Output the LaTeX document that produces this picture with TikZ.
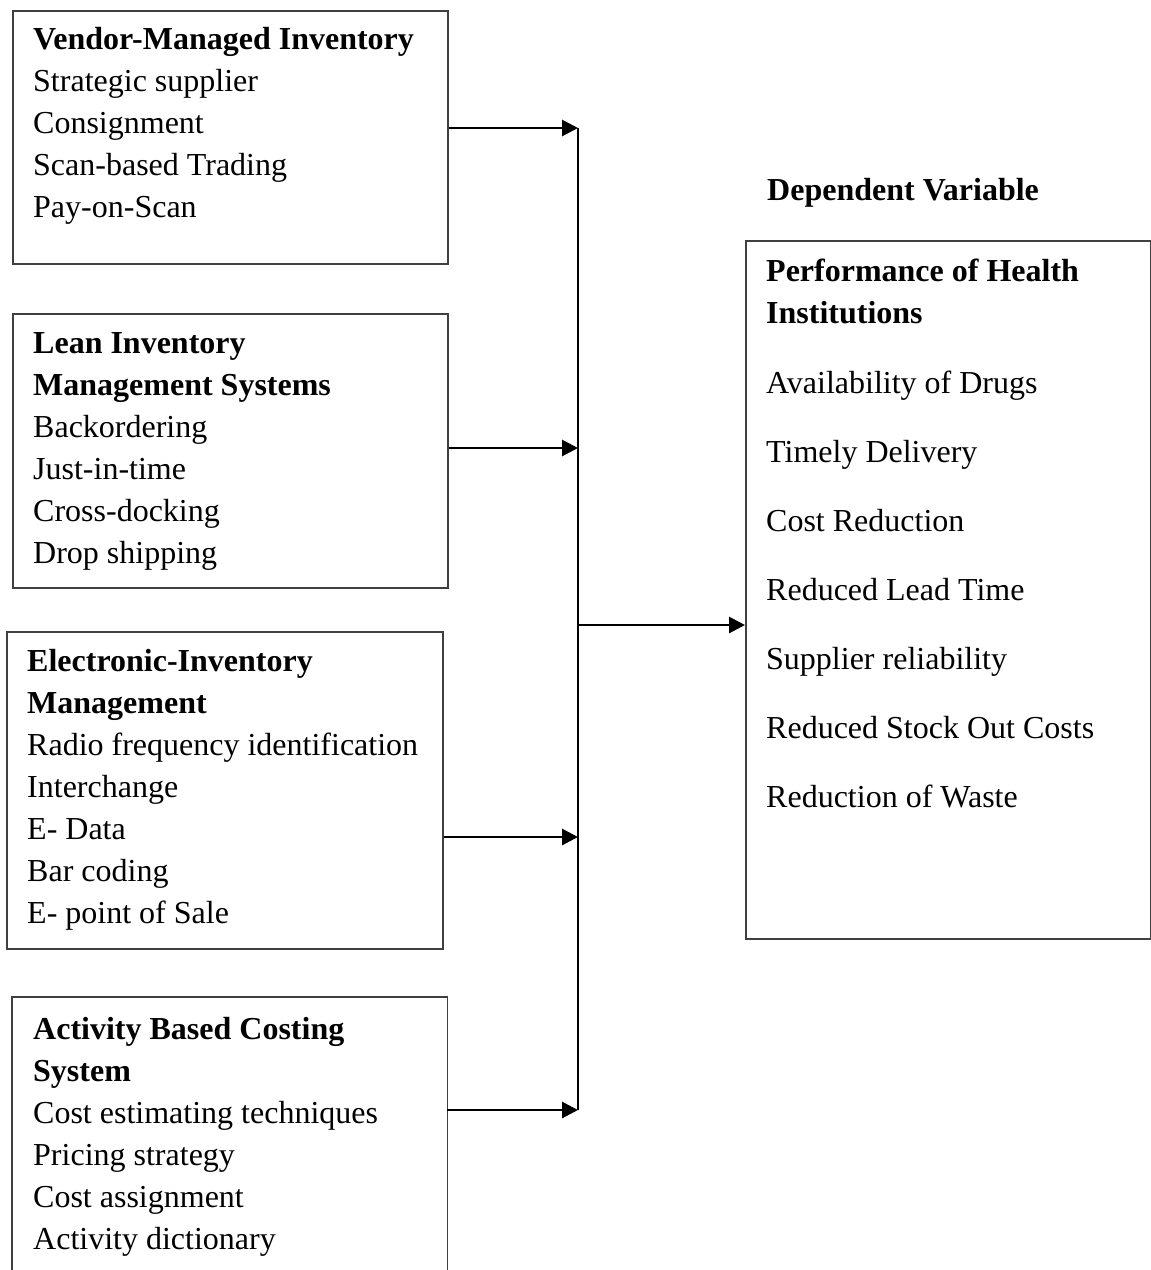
\documentclass[tikz,border=0pt]{standalone}
\usepackage{fontspec}
\setmainfont{Liberation Serif}
\usetikzlibrary{arrows.meta}
\begin{document}
\begin{tikzpicture}[x=1pt,y=-1pt,
  box/.style={draw=black!75, line width=1.6pt, anchor=north west, inner sep=0pt},
  openbox/.style={anchor=north west, inner sep=0pt},
  txt/.style={anchor=base west, align=left, inner sep=0pt, font=\fontsize{32}{42}\selectfont},
  conn/.style={line width=2.9pt, black},
  arr/.style={conn, -{Triangle[length=16pt,width=16pt]}}]
\useasboundingbox (0,0) rectangle (1151,1270);
% boxes
\node[box, minimum width=435pt, minimum height=253pt] (b1) at (12,10) {};
\node[box, minimum width=435pt, minimum height=274pt] (b2) at (12,313) {};
\node[box, minimum width=436pt, minimum height=317pt] (b3) at (6,631) {};
\node[openbox, minimum width=435pt, minimum height=280pt] (b4) at (12,997) {};
\draw[draw=black!75, line width=1.6pt] (b4.south west) -- (b4.north west) -- (b4.north east) -- (b4.south east);
\node[box, minimum width=405pt, minimum height=698pt] (rb) at (745,240) {};
% texts (anchor = baseline of the last line)
\node[txt] (t1) at (33,217) {\textbf{Vendor-Managed Inventory}\\Strategic supplier\\Consignment\\Scan-based Trading\\Pay-on-Scan};
\node[txt] (t2) at (33,563) {\textbf{Lean Inventory}\\\textbf{Management Systems}\\Backordering\\Just-in-time\\Cross-docking\\Drop shipping};
\node[txt] (t3) at (27,923) {\textbf{Electronic-Inventory}\\\textbf{Management}\\Radio frequency identification\\Interchange\\E- Data\\Bar coding\\E- point of Sale};
\node[txt] (t4) at (33,1249) {\textbf{Activity Based Costing}\\\textbf{System}\\Cost estimating techniques\\Pricing strategy\\Cost assignment\\Activity dictionary};
\node[txt] (dv) at (767,200) {\textbf{Dependent Variable}};
\node[txt] (tr) at (766,807) {\textbf{Performance of Health}\\\textbf{Institutions}\\[28pt]Availability of Drugs\\[27pt]Timely Delivery\\[27pt]Cost Reduction\\[27pt]Reduced Lead Time\\[27pt]Supplier reliability\\[27pt]Reduced Stock Out Costs\\[27pt]Reduction of Waste};
% connectors
\coordinate (j1) at (578,128);
\coordinate (j2) at (578,448);
\coordinate (j3) at (578,837);
\coordinate (j4) at (578,1110);
\coordinate (jm) at (578,625);
\draw[conn] (j1) -- (j4);
\draw[arr] (b1.east |- j1) -- (j1);
\draw[arr] (b2.east |- j2) -- (j2);
\draw[arr] (b3.east |- j3) -- (j3);
\draw[arr] (b4.east |- j4) -- (j4);
\draw[arr] (jm) -- (rb.west |- jm);
\end{tikzpicture}
\end{document}
